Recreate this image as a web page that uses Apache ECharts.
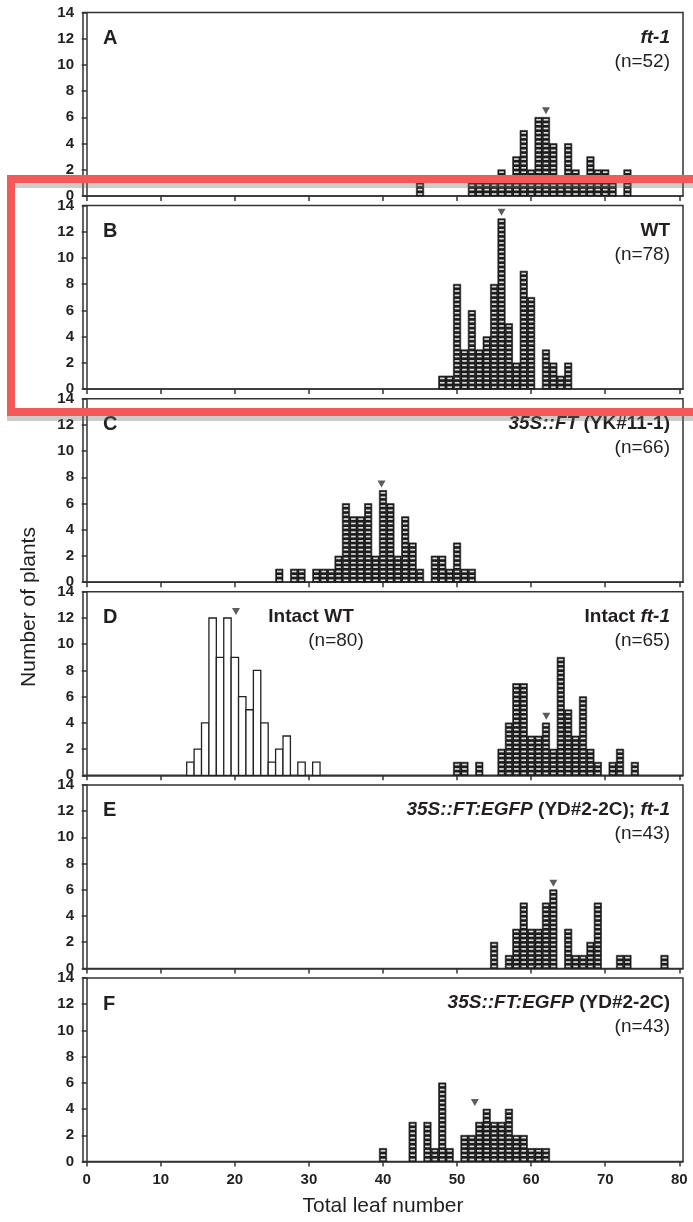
<!DOCTYPE html>
<html><head><meta charset="utf-8">
<script src="https://cdn.jsdelivr.net/npm/echarts@6/dist/echarts.min.js"></script>
<style>html,body{margin:0;padding:0;background:#fff}#c{width:693px;height:1222px}</style>
</head><body><div id="c"></div>
<script>
// ---- data ----
const xTicks = [0, 10, 20, 30, 40, 50, 60, 70, 80];
const yTicks = [0, 2, 4, 6, 8, 10, 12, 14];

// A: ft-1 (n=52)
const leavesA = [45, 52, 53, 54, 55, 56, 57, 58, 59, 60, 61, 62, 63, 64, 65, 66, 67, 68, 69, 70, 71, 73];
const countsA = [1, 1, 1, 1, 1, 2, 1, 3, 5, 2, 6, 6, 4, 1, 4, 2, 1, 3, 2, 2, 1, 2];
// B: WT (n=78)
const leavesB = [48, 49, 50, 51, 52, 53, 54, 55, 56, 57, 58, 59, 60, 62, 63, 64, 65];
const countsB = [1, 1, 8, 3, 6, 3, 4, 8, 13, 5, 2, 9, 7, 3, 2, 1, 2];
// C: 35S::FT (YK#11-1) (n=66)
const leavesC = [26, 28, 29, 31, 32, 33, 34, 35, 36, 37, 38, 39, 40, 41, 42, 43, 44, 45, 47, 48, 49, 50, 51, 52];
const countsC = [1, 1, 1, 1, 1, 1, 2, 6, 5, 5, 6, 2, 7, 6, 2, 5, 3, 1, 2, 2, 1, 3, 1, 1];
// D: Intact WT (n=80), open bars
const leavesDwt = [14, 15, 16, 17, 18, 19, 20, 21, 22, 23, 24, 25, 26, 27, 29, 31];
const countsDwt = [1, 2, 4, 12, 9, 12, 9, 6, 5, 8, 4, 1, 2, 3, 1, 1];
// D: Intact ft-1 (n=65)
const leavesDft = [50, 51, 53, 56, 57, 58, 59, 60, 61, 62, 63, 64, 65, 66, 67, 68, 69, 71, 72, 74];
const countsDft = [1, 1, 1, 2, 4, 7, 7, 3, 3, 4, 2, 9, 5, 3, 6, 2, 1, 1, 2, 1];
// E: 35S::FT:EGFP (YD#2-2C); ft-1 (n=43)
const leavesE = [55, 57, 58, 59, 60, 61, 62, 63, 65, 66, 67, 68, 69, 72, 73, 78];
const countsE = [2, 1, 3, 5, 3, 3, 5, 6, 3, 1, 1, 2, 5, 1, 1, 1];
// F: 35S::FT:EGFP (YD#2-2C) (n=43)
const leavesF = [40, 44, 46, 47, 48, 49, 51, 52, 53, 54, 55, 56, 57, 58, 59, 60, 61, 62];
const countsF = [1, 3, 3, 1, 6, 1, 2, 2, 3, 4, 3, 3, 4, 2, 2, 1, 1, 1];

// mean markers (panel index, x, y)
const arrowPanel = [0, 1, 2, 3, 3, 4, 5];
const arrowX = [62, 56, 39.8, 20.15, 62.05, 63, 52.4];
const arrowY = [6.5, 13.5, 7.5, 12.5, 4.5, 6.5, 4.5];

const panelLetters = ['A', 'B', 'C', 'D', 'E', 'F'];
const panelN = ['(n=52)', '(n=78)', '(n=66)', '(n=65)', '(n=43)', '(n=43)'];

// ---- layout ----
const FONT = '"Liberation Sans", Arial, Helvetica, sans-serif';
const INK = '#231f20';
const GL = 83, GW = 600, GH = 183.5;
const panelTop = k => 12.5 + 193.1 * k;

const chart = echarts.init(document.getElementById('c'), null, {renderer: 'canvas'});

const grids = [], xAxes = [], yAxes = [], series = [];
for (let k = 0; k < 6; k++) {
  grids.push({left: GL, top: panelTop(k), width: GW, height: GH, show: true,
    borderColor: '#333', borderWidth: 1.5, backgroundColor: 'transparent'});
  xAxes.push({type: 'value', gridIndex: k, min: -0.5, max: 80.5,
    axisLine: {show: true, onZero: false, lineStyle: {color: '#333', width: 1.5}},
    axisTick: {show: true, customValues: xTicks, length: 5, lineStyle: {color: '#333', width: 1.5}},
    axisLabel: {show: k === 5, customValues: xTicks, margin: 11,
      fontFamily: FONT, fontWeight: 'bold', fontSize: 15, color: INK},
    splitLine: {show: false}});
  yAxes.push({type: 'value', gridIndex: k, min: 0, max: 14, interval: 2,
    axisLine: {show: true, lineStyle: {color: '#333', width: 1.5}},
    axisTick: {show: true, length: 5, lineStyle: {color: '#333', width: 1.5}},
    axisLabel: {show: true, margin: 9, fontFamily: FONT, fontWeight: 'bold', fontSize: 15, color: INK},
    splitLine: {show: false}});
}

function boxRender(params, api) {
  const x = api.value(0), n = api.value(1);
  const p0 = api.coord([x - 0.5, 0]);
  const p1 = api.coord([x + 0.5, n]);
  const x0 = p0[0], x1 = p1[0], yb = p0[1], yt = p1[1];
  const u = (yb - yt) / n;
  const children = [{type: 'rect', shape: {x: x0, y: yt, width: x1 - x0, height: yb - yt},
    style: {fill: '#1c1c1c', stroke: '#1c1c1c', lineWidth: 0.6}}];
  const sh = 1.7, inset = 1.4;
  for (let j = 0; j < n; j++) {
    const ut = yt + j * u;
    for (let s = 0; s < 3; s++) {
      const cy = ut + u * (s + 0.55) / 3;
      children.push({type: 'rect', shape: {x: x0 + inset, y: cy - sh / 2, width: x1 - x0 - 2 * inset, height: sh},
        style: {fill: '#dcdcdc'}});
    }
  }
  return {type: 'group', children};
}
function openRender(params, api) {
  const x = api.value(0), n = api.value(1);
  const p0 = api.coord([x - 0.5, 0]);
  const p1 = api.coord([x + 0.5, n]);
  return {type: 'rect', shape: {x: p0[0], y: p1[1], width: p1[0] - p0[0], height: p0[1] - p1[1]},
    style: {fill: '#fff', stroke: '#222', lineWidth: 1.3}};
}
function boxSeries(k, leaves, counts, render) {
  return {type: 'custom', xAxisIndex: k, yAxisIndex: k, renderItem: render || boxRender,
    encode: {x: 0, y: 1}, silent: true, animation: false,
    data: leaves.map((l, i) => [l, counts[i]])};
}
series.push(boxSeries(0, leavesA, countsA));
series.push(boxSeries(1, leavesB, countsB));
series.push(boxSeries(2, leavesC, countsC));
series.push(boxSeries(3, leavesDwt, countsDwt, openRender));
series.push(boxSeries(3, leavesDft, countsDft));
series.push(boxSeries(4, leavesE, countsE));
series.push(boxSeries(5, leavesF, countsF));
for (let k = 0; k < 6; k++) {
  const pts = [];
  arrowPanel.forEach((p, i) => { if (p === k) pts.push([arrowX[i], arrowY[i]]); });
  series.push({type: 'scatter', xAxisIndex: k, yAxisIndex: k, symbol: 'triangle', symbolRotate: 180,
    symbolSize: [8, 7], itemStyle: {color: '#333'}, silent: true, animation: false, data: pts});
}

// ---- texts ----
const g = [];
const rich = {
  bi: {fontFamily: FONT, fontWeight: 'bold', fontStyle: 'italic', fontSize: 19, fill: INK, color: INK},
  b: {fontFamily: FONT, fontWeight: 'bold', fontSize: 19, fill: INK, color: INK}
};
const titles = [
  '{bi|ft-1}',
  '{b|WT}',
  '{bi|35S::FT} {b|(YK#11-1)}',
  '{b|Intact }{bi|ft-1}',
  '{bi|35S::FT:EGFP} {b|(YD#2-2C); }{bi|ft-1}',
  '{bi|35S::FT:EGFP} {b|(YD#2-2C)}'
];
for (let k = 0; k < 6; k++) {
  const t = panelTop(k);
  g.push({type: 'text', z: 50, style: {text: panelLetters[k], x: 103, y: t + 26, textVerticalAlign: 'middle',
    font: 'bold 20px ' + FONT, fill: INK}});
  g.push({type: 'text', z: 50, style: {text: titles[k], rich: rich, x: 670, y: t + 25, textAlign: 'right',
    textVerticalAlign: 'middle', font: 'bold 19px ' + FONT, fill: INK}});
  g.push({type: 'text', z: 50, style: {text: panelN[k], x: 670, y: t + 49, textAlign: 'right',
    textVerticalAlign: 'middle', font: '19px ' + FONT, fill: INK}});
}
const tD = panelTop(3);
g.push({type: 'text', z: 50, style: {text: 'Intact WT', x: 311, y: tD + 25, textAlign: 'center',
  textVerticalAlign: 'middle', font: 'bold 19px ' + FONT, fill: INK}});
g.push({type: 'text', z: 50, style: {text: '(n=80)', x: 336, y: tD + 49, textAlign: 'center',
  textVerticalAlign: 'middle', font: '19px ' + FONT, fill: INK}});
g.push({type: 'text', z: 50, style: {text: 'Total leaf number', x: 383, y: 1206, textAlign: 'center',
  textVerticalAlign: 'middle', font: '21px ' + FONT, fill: INK}});
g.push({type: 'text', z: 50, rotation: Math.PI / 2, x: 29, y: 607, style: {text: 'Number of plants', x: 0, y: 0,
  textAlign: 'center', textVerticalAlign: 'middle', font: '21px ' + FONT, fill: INK}});

// highlight box with shadow
g.push({type: 'rect', z: 100, shape: {x: 15, y: 183, width: 700, height: 5}, style: {fill: 'rgba(110,110,110,0.35)'}});
g.push({type: 'rect', z: 100, shape: {x: 7, y: 416, width: 700, height: 5}, style: {fill: 'rgba(110,110,110,0.35)'}});
g.push({type: 'rect', z: 101, shape: {x: 11, y: 179, width: 700, height: 233},
  style: {fill: null, stroke: '#f25a5a', lineWidth: 8}});

chart.setOption({animation: false, backgroundColor: '#fff', grid: grids, xAxis: xAxes, yAxis: yAxes,
  series: series, graphic: g});
</script></body></html>
